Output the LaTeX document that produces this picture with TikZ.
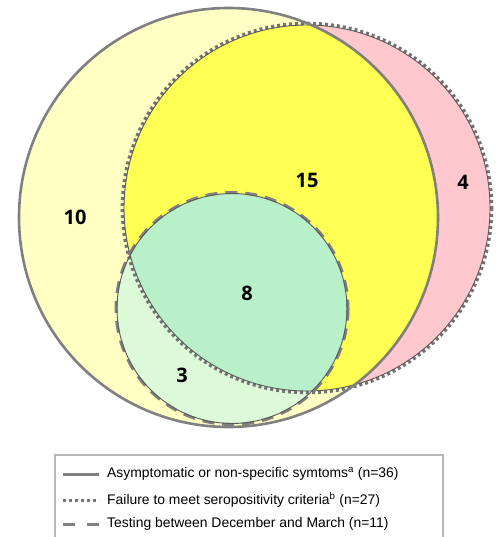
\documentclass[tikz,border=0pt]{standalone}
\usepackage{fontspec}
\setmainfont{Liberation Sans}
\newfontfamily\numfont{Open Sans}
\definecolor{lyel}{RGB}{255,255,196}
\definecolor{yel}{RGB}{255,255,84}
\definecolor{pnk}{RGB}{255,200,206}
\definecolor{grn}{RGB}{184,240,202}
\definecolor{lgrn}{RGB}{221,250,216}
\definecolor{edge}{RGB}{128,128,128}
\definecolor{dotc}{RGB}{115,115,115}
\definecolor{dk}{RGB}{90,90,90}
\begin{document}
\begin{tikzpicture}[x=1pt,y=-1pt,
  num/.style={font=\numfont\bfseries\fontsize{20}{20}\selectfont, text=black, inner sep=0pt},
  legtext/.style={font=\fontsize{13.9}{15}\selectfont, anchor=west, inner sep=0pt, text=black},
  solidline/.style={draw=edge, line width=2.6pt},
  dotline/.style={draw=dotc, line width=3.4pt, dash pattern=on 3pt off 3pt},
  dashline/.style={draw=edge, line width=3pt, dash pattern=on 12pt off 8pt}]
\useasboundingbox (0,0) rectangle (500,537);
% regions
\coordinate (cA) at (228.5,217.5);
\coordinate (cB) at (307,208);
\coordinate (cC) at (232,308.5);
\fill[lyel] (cA) circle (209.5);
\fill[pnk] (cB) circle (183);
\begin{scope}
  \clip (cA) circle (209.5);
  \fill[yel] (cB) circle (183);
\end{scope}
\fill[lgrn] (cC) circle (115);
\begin{scope}
  \clip (cB) circle (183);
  \fill[grn] (cC) circle (115);
\end{scope}
% outlines
\draw[dotline] (cB) circle (184.6);
\draw[dk, line width=0.9pt] (cB) circle (183);
\draw[dashline] (cC) circle (116);
\draw[dk, line width=0.9pt] (cC) circle (115);
\draw[solidline] (cA) circle (209.5);
% numbers
\node[num] (n10) at (75,217) {10};
\node[num] (n15) at (307,180) {15};
\node[num] (n4) at (463,182) {4};
\node[num] (n8) at (247,293) {8};
\node[num] (n3) at (182,375) {3};
% legend
\draw[draw=black!28, line width=1.4pt] (55,545) -- (55,455) -- (443,455) -- (443,545);
\coordinate (l1a) at (63,474); \coordinate (l1b) at (99,474);
\coordinate (l2a) at (63,500); \coordinate (l2b) at (99,500);
\coordinate (l3a) at (63,524); \coordinate (l3b) at (99,524);
\draw[solidline, line width=3pt] (l1a) -- (l1b);
\draw[dotline, line width=3pt] (l2a) -- (l2b);
\draw[dashline, dash pattern=on 12pt off 12pt] (l3a) -- (l3b);
\node[legtext] (t1) at (107,474) {Asymptomatic or non-specific symtoms\textsuperscript{a} (n=36)};
\node[legtext] (t2) at (107,500) {Failure to meet seropositivity criteria\textsuperscript{b} (n=27)};
\node[legtext] (t3) at (107,524) {Testing between December and March (n=11)};
\end{tikzpicture}
\end{document}
